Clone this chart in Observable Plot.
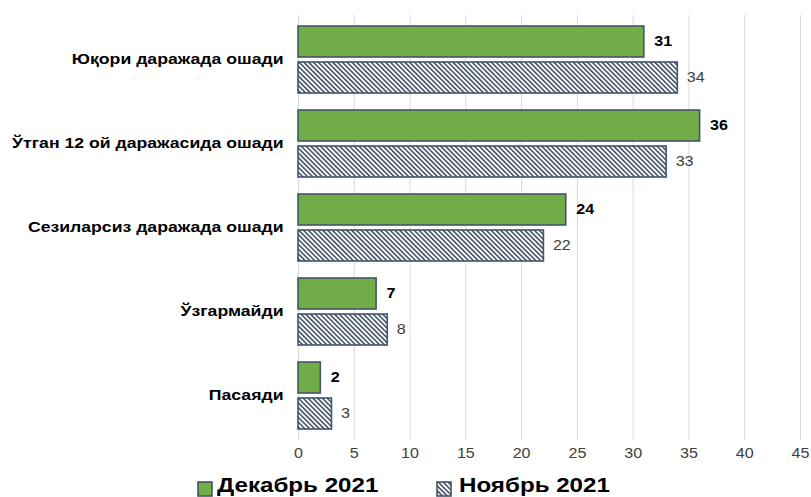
<!DOCTYPE html>
<html>
<head>
<meta charset="utf-8">
<script src="https://cdn.jsdelivr.net/npm/d3@7"></script>
<script src="https://cdn.jsdelivr.net/npm/@observablehq/plot@0.6"></script>
<style>
  html, body { margin: 0; padding: 0; background: #fff; }
  #chart { width: 811px; }
  .legend { position: relative; height: 27px; font-family: "Liberation Sans", Arial, sans-serif;
    font-weight: bold; font-size: 21px; color: #000; }
  .legend .sw { position: absolute; top: 11px; }
  .legend .lbl { position: absolute; top: 3px; line-height: 24px; white-space: nowrap;
    transform: scaleX(1.15); transform-origin: left center; }
</style>
</head>
<body>
<div id="chart"></div>
<script>
const categories = ["Юқори даражада ошади", "Ўтган 12 ой даражасида ошади", "Сезиларсиз даражада ошади", "Ўзгармайди", "Пасаяди"];
const series = ["Декабрь 2021", "Ноябрь 2021"];
const dec2021 = [31, 36, 24, 7, 2];
const nov2021 = [34, 33, 22, 8, 3];
const xTicks = [0, 5, 10, 15, 20, 25, 30, 35, 40, 45];

const GREEN = "#70AD47";
const EDGE = "#44546A";

const rowsDec = categories.map((c, i) => ({category: c, series: series[0], value: dec2021[i]}));
const rowsNov = categories.map((c, i) => ({category: c, series: series[1], value: nov2021[i]}));

// each category band holds two bars (31px each, 5px gap)
const BAR_GAP_INSET = 36;

const chart = Plot.plot({
  width: 811,
  height: 470,
  marginLeft: 298,
  marginRight: 11,
  marginTop: 15,
  marginBottom: 30,
  style: {fontFamily: "'Liberation Sans', Arial, sans-serif", background: "#fff"},
  x: {domain: [0, 45], label: null},
  y: {domain: categories, paddingInner: 0.205, paddingOuter: 0.12, label: null},
  marks: [
    Plot.ruleX(xTicks, {stroke: "#d9d9d9", strokeWidth: 1}),
    Plot.barX(rowsDec, {x: "value", y: "category", insetBottom: BAR_GAP_INSET, fill: GREEN, stroke: EDGE, strokeWidth: 1.6}),
    Plot.barX(rowsNov, {x: "value", y: "category", insetTop: BAR_GAP_INSET, fill: "url(#hatch)", stroke: EDGE, strokeWidth: 1.6}),
    Plot.text(rowsDec, {x: "value", y: "category", text: d => String(d.value), dx: 10, dy: -18, textAnchor: "start", fontWeight: "bold", fontSize: 14, fill: "#000"}),
    Plot.text(rowsNov, {x: "value", y: "category", text: d => String(d.value), dx: 9, dy: 18, textAnchor: "start", fontSize: 14, fill: "#404040"}),
    Plot.axisX({ticks: xTicks, tickSize: 0, tickPadding: 8, fontSize: 14, fill: "#404040", label: null}),
    Plot.axisY({anchor: "left", tickSize: 0, tickPadding: 15, fontSize: 14, fontWeight: "bold", fill: "#000", label: null})
  ]
});

// hatch pattern definition (fine diagonal stripes, top-left to bottom-right)
const ns = "http://www.w3.org/2000/svg";
const defs = document.createElementNS(ns, "defs");
defs.innerHTML = `<pattern id="hatch" patternUnits="userSpaceOnUse" width="3.4" height="3.4" patternTransform="rotate(-45)">
  <rect width="3.4" height="3.4" fill="#fff"/>
  <rect width="1.6" height="3.4" fill="${EDGE}"/>
</pattern>`;
chart.insertBefore(defs, chart.firstChild);
document.getElementById("chart").appendChild(chart);

// the reference's lettering is horizontally wide: stretch glyphs
d3.select(chart).selectAll("text").each(function() {
  const inYAxis = this.closest('[aria-label="y-axis tick label"]') !== null;
  const k = inYAxis ? 1.26 : 1.15;
  const w = this.getComputedTextLength();
  this.setAttribute("textLength", (w * k).toFixed(1));
  this.setAttribute("lengthAdjust", "spacingAndGlyphs");
});

// legend
const legend = document.createElement("div");
legend.className = "legend";
legend.innerHTML = `
  <svg class="sw" style="left:197px" width="17" height="17"><rect x="1" y="1" width="14" height="14" fill="${GREEN}" stroke="${EDGE}" stroke-width="1.6"/></svg>
  <span class="lbl" style="left:217px">${series[0]}</span>
  <svg class="sw" style="left:436px" width="17" height="17"><rect x="1" y="1" width="14" height="14" fill="url(#hatch)" stroke="${EDGE}" stroke-width="1.6"/></svg>
  <span class="lbl" style="left:459px">${series[1]}</span>`;
document.getElementById("chart").appendChild(legend);
</script>
</body>
</html>
